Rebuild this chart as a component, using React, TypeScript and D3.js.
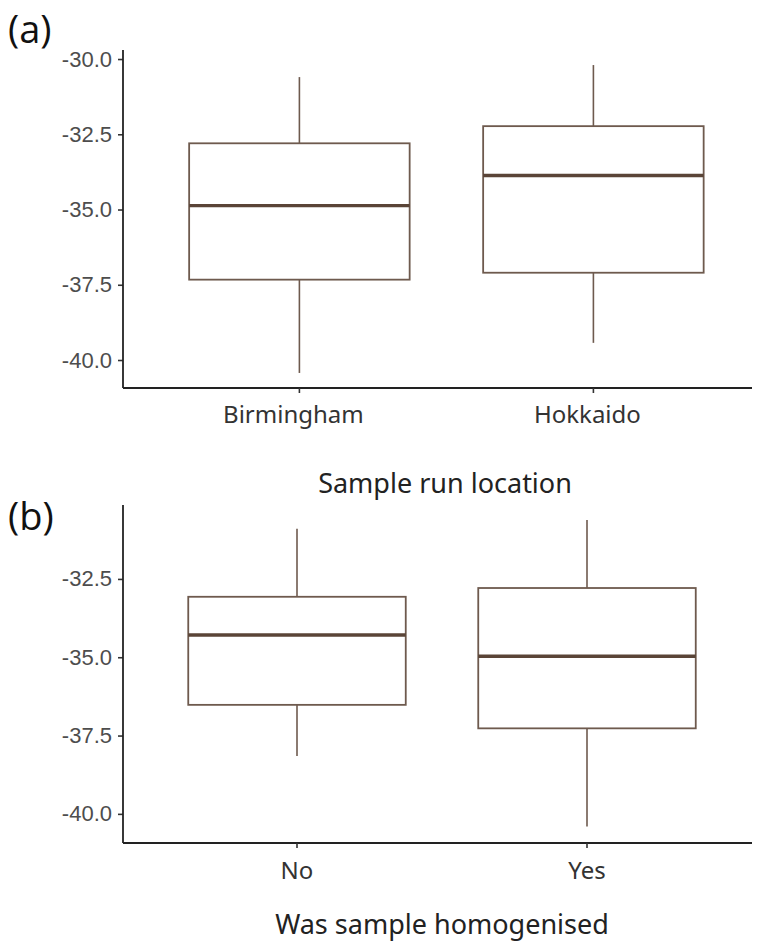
import React, { useEffect, useRef } from 'react';
import * as d3 from 'd3';

// panel (a): sample run location
const locations = ['Birmingham', 'Hokkaido'];
const locStats = [
  { lo: -40.43, q1: -37.33, med: -34.87, q3: -32.8, hi: -30.6 },
  { lo: -39.43, q1: -37.1, med: -33.87, q3: -32.23, hi: -30.2 },
];

// panel (b): homogenised
const homog = ['No', 'Yes'];
const homogStats = [
  { lo: -38.15, q1: -36.52, med: -34.29, q3: -33.07, hi: -30.9 },
  { lo: -40.4, q1: -37.27, med: -34.97, q3: -32.79, hi: -30.62 },
];

const ticksA = [-30, -32.5, -35, -37.5, -40];
const ticksB = [-32.5, -35, -37.5, -40];

const boxColor = '#6e5a4e';
const medColor = '#5a4437';
const labelFont = '"Noto Sans", "Open Sans", sans-serif';

const App = () => {
  const svgRef = useRef(null);

  useEffect(() => {
    const svg = d3.select(svgRef.current);
    svg.selectAll('*').remove();

    const fmt = (d) => d3.format('.1f')(d).replace('−', '-');

    const drawPanel = (cfg) => {
      const { cats, stats, ticks, yDomain, yRange, step, tag, tagY, title, titleX, labelY, labelDx, titleY } = cfg;
      const left = 123;
      const right = 752;
      const g = svg.append('g');

      const y = d3.scaleLinear().domain(yDomain).range(yRange);
      const x = d3.scaleLinear().domain([0.4, 2.6]).range([left, left + 2.2 * step]);
      const bw = 0.75 * step;

      // boxes
      stats.forEach((s, i) => {
        const cx = x(i + 1);
        g.append('line')
          .attr('x1', cx).attr('x2', cx)
          .attr('y1', y(s.hi)).attr('y2', y(s.q3))
          .attr('stroke', boxColor).attr('stroke-width', 1.6);
        g.append('line')
          .attr('x1', cx).attr('x2', cx)
          .attr('y1', y(s.q1)).attr('y2', y(s.lo))
          .attr('stroke', boxColor).attr('stroke-width', 1.6);
        g.append('rect')
          .attr('x', cx - bw / 2).attr('width', bw)
          .attr('y', y(s.q3)).attr('height', y(s.q1) - y(s.q3))
          .attr('fill', 'white').attr('stroke', boxColor).attr('stroke-width', 1.8);
        g.append('line')
          .attr('x1', cx - bw / 2).attr('x2', cx + bw / 2)
          .attr('y1', y(s.med)).attr('y2', y(s.med))
          .attr('stroke', medColor).attr('stroke-width', 3.4);
      });

      // y axis
      const yAxis = g.append('g')
        .attr('transform', `translate(${left},0)`)
        .call(d3.axisLeft(y).tickValues(ticks).tickFormat(fmt).tickSize(5).tickPadding(6));
      yAxis.select('.domain').remove();
      yAxis.selectAll('.tick line').attr('stroke', '#333').attr('stroke-width', 1.6);
      yAxis.selectAll('.tick text')
        .attr('fill', '#4d4d4d')
        .style('font-family', '"Liberation Sans", Arial, sans-serif')
        .style('font-size', '22px');
      g.append('line')
        .attr('x1', left).attr('x2', left)
        .attr('y1', yRange[1]).attr('y2', yRange[0])
        .attr('stroke', '#222').attr('stroke-width', 1.8);

      // x axis
      g.append('line')
        .attr('x1', left).attr('x2', right)
        .attr('y1', yRange[0]).attr('y2', yRange[0])
        .attr('stroke', '#222').attr('stroke-width', 1.8);
      cats.forEach((c, i) => {
        g.append('line')
          .attr('x1', x(i + 1)).attr('x2', x(i + 1))
          .attr('y1', yRange[0]).attr('y2', yRange[0] + 5)
          .attr('stroke', '#333').attr('stroke-width', 1.6);
        g.append('text')
          .attr('x', x(i + 1) + labelDx).attr('y', labelY)
          .attr('text-anchor', 'middle')
          .attr('fill', '#333')
          .style('font-family', labelFont)
          .style('font-size', '24px')
          .text(c);
      });

      g.append('text')
        .attr('x', titleX).attr('y', titleY)
        .attr('text-anchor', 'middle')
        .attr('fill', '#222')
        .style('font-family', labelFont)
        .style('font-size', '27px')
        .text(title);

      g.append('text')
        .attr('x', 8).attr('y', tagY)
        .attr('fill', '#111')
        .style('font-family', '"Open Sans", sans-serif')
        .style('font-size', '38px')
        .text(tag);
    };

    drawPanel({
      cats: locations, stats: locStats, ticks: ticksA,
      yDomain: [-40.93, -29.7], yRange: [388, 50], step: 294,
      tag: '(a)', tagY: 43, title: 'Sample run location', titleX: 445,
      labelY: 423, labelDx: -6, titleY: 493,
    });
    drawPanel({
      cats: homog, stats: homogStats, ticks: ticksB,
      yDomain: [-40.93, -30.14], yRange: [843, 505], step: 290,
      tag: '(b)', tagY: 530, title: 'Was sample homogenised', titleX: 442,
      labelY: 879, labelDx: 0, titleY: 934,
    });
  }, []);

  return (
    <svg ref={svgRef} width={764} height={944} style={{ position: 'absolute', left: 0, top: 0, background: 'white' }}></svg>
  );
};

export default App;
